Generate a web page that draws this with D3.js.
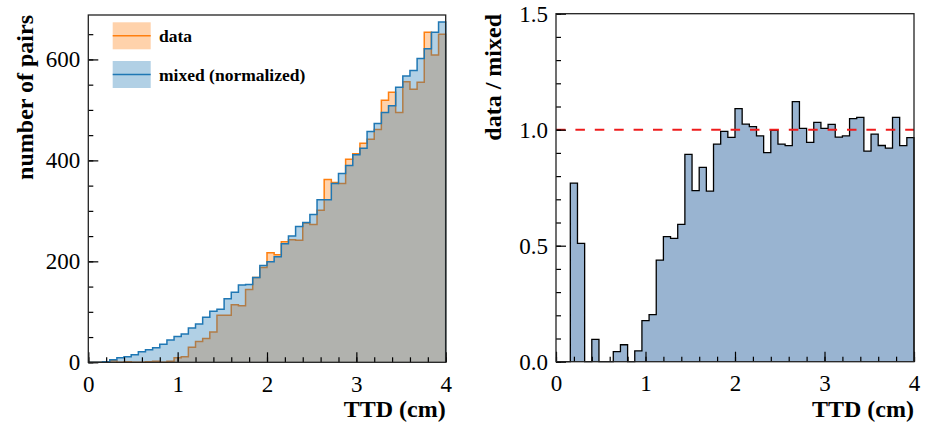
<!DOCTYPE html>
<html>
<head>
<meta charset="utf-8">
<script src="https://cdn.jsdelivr.net/npm/d3@7"></script>
<style>
  body { margin: 0; background: #fff; }
  svg { display: block; }
  text { font-family: "Liberation Serif", "Times New Roman", serif; fill: #000; }
</style>
</head>
<body>
<div id="chart"></div>
<script>
// 50 bins of 0.08 cm between 0 and 4 cm
const binEdges = d3.range(51).map(i => +(i * 0.08).toFixed(2));

const dataCounts = [
  0, 0, 1, 3, 0, 1, 0, 0, 1, 2,
  0, 2, 9, 11, 30, 41, 47, 60, 93, 93,
  114, 112, 144, 168, 188, 217, 213, 239, 243, 242,
  276, 273, 301, 362, 356, 354, 402, 413, 434, 442,
  461, 519, 535, 495, 556, 541, 555, 654, 609, 650
];

const mixedCounts = [
  0, 0, 1.3, 5, 9, 11, 15, 21, 25, 29,
  36, 44, 51, 56, 68, 76, 89, 101, 105, 126,
  139, 153, 154, 168, 192, 199, 209, 235, 250, 269,
  277, 293, 322, 322, 354, 374, 390, 411, 424, 457,
  473, 495, 508, 545, 567, 578, 602, 621, 654, 674
];

const ratioValues = [
  0, 0, 0.77, 0.51, 0, 0.096, 0, 0, 0.043, 0.073,
  0, 0.047, 0.177, 0.203, 0.438, 0.539, 0.532, 0.592, 0.894, 0.737,
  0.838, 0.735, 0.938, 0.993, 0.967, 1.091, 1.024, 1.013, 0.973, 0.901,
  0.997, 0.938, 0.931, 1.121, 1.006, 0.945, 1.032, 1.006, 1.023, 0.968,
  0.973, 1.048, 1.053, 0.908, 0.981, 0.932, 0.921, 1.053, 0.931, 0.966
];

const xTicks = [0, 1, 2, 3, 4];
const xMinorTicks = d3.range(0, 4.001, 0.2);
const countTicks = [0, 200, 400, 600];
const countMinorTicks = d3.range(0, 688, 50);
const ratioTicks = [0, 0.5, 1.0, 1.5];
const ratioMinorTicks = d3.range(0, 1.501, 0.1);
const legendItems = [
  { label: "data", color: "#ff7f0e" },
  { label: "mixed (normalized)", color: "#1f77b4" }
];

const width = 928, height = 425;

const svg = d3.select("#chart").append("svg")
  .attr("width", width)
  .attr("height", height);

// step helpers
function stepPoints(values) {
  const pts = values.map((v, i) => [binEdges[i], v]);
  pts.push([binEdges[binEdges.length - 1], values[values.length - 1]]);
  return pts;
}
function outlinePoints(values) {
  const pts = stepPoints(values);
  return [[binEdges[0], 0], ...pts, [binEdges[binEdges.length - 1], 0]];
}

function drawTicks(g, x, y, xMajor, xMinor, yMajor, yMinor, yFormat) {
  g.append("g")
    .attr("transform", `translate(0,${y.range()[0]})`)
    .call(d3.axisBottom(x).tickValues(xMinor).tickSize(-5).tickFormat(""))
    .call(a => a.select(".domain").remove());
  g.append("g")
    .attr("transform", `translate(0,${y.range()[0]})`)
    .call(d3.axisBottom(x).tickValues(xMajor).tickSize(-10).tickPadding(13).tickFormat(d3.format("d")))
    .call(a => a.select(".domain").remove())
    .call(a => a.selectAll("text").attr("font-size", 23).attr("font-family", "Liberation Serif"));
  g.append("g")
    .attr("transform", `translate(${x.range()[0]},0)`)
    .call(d3.axisLeft(y).tickValues(yMinor).tickSize(-5).tickFormat(""))
    .call(a => a.select(".domain").remove());
  g.append("g")
    .attr("transform", `translate(${x.range()[0]},0)`)
    .call(d3.axisLeft(y).tickValues(yMajor).tickSize(-10).tickPadding(8).tickFormat(yFormat))
    .call(a => a.select(".domain").remove())
    .call(a => a.selectAll("text").attr("font-size", 23).attr("font-family", "Liberation Serif"));
  g.selectAll(".tick line").attr("stroke", "#000").attr("stroke-width", 1.2);
}

// ---------- left panel ----------
const xL = d3.scaleLinear().domain([0, 4]).range([88.3, 445.7]);
const yL = d3.scaleLinear().domain([0, 688]).range([362.3, 15]);
const left = svg.append("g");

const areaL = d3.area().curve(d3.curveStepAfter)
  .x(d => xL(d[0])).y0(yL(0)).y1(d => yL(d[1]));
const lineL = d3.line().curve(d3.curveStepAfter)
  .x(d => xL(d[0])).y(d => yL(d[1]));

[dataCounts, mixedCounts].forEach((vals, k) => {
  const c = legendItems[k].color;
  left.append("path").attr("d", areaL(stepPoints(vals)))
    .attr("fill", c).attr("fill-opacity", 0.35);
  left.append("path").attr("d", lineL(outlinePoints(vals)))
    .attr("fill", "none").attr("stroke", c).attr("stroke-width", 1.5);
});

drawTicks(left, xL, yL, xTicks, xMinorTicks, countTicks, countMinorTicks, d3.format("d"));

left.append("rect")
  .attr("x", xL(0)).attr("y", yL.range()[1])
  .attr("width", xL(4) - xL(0)).attr("height", yL.range()[0] - yL.range()[1])
  .attr("fill", "none").attr("stroke", "#222").attr("stroke-width", 1.3);

// legend
const legend = left.append("g");
legendItems.forEach((d, i) => {
  const top = 22.3 + i * 38.7;
  legend.append("rect")
    .attr("x", 112.7).attr("y", top).attr("width", 38).attr("height", 27)
    .attr("fill", d.color).attr("fill-opacity", 0.35);
  legend.append("line")
    .attr("x1", 112.7).attr("x2", 150.7)
    .attr("y1", top + 13.5).attr("y2", top + 13.5)
    .attr("stroke", d.color).attr("stroke-width", 1.5);
  legend.append("text")
    .attr("x", 159).attr("y", top + 19.5)
    .attr("font-size", 17.5).attr("font-weight", "bold")
    .text(d.label);
});

left.append("text")
  .attr("x", xL(4)).attr("y", 417)
  .attr("text-anchor", "end").attr("font-size", 24).attr("font-weight", "bold")
  .text("TTD (cm)");
left.append("text")
  .attr("transform", "translate(33,15) rotate(-90)")
  .attr("text-anchor", "end").attr("font-size", 24).attr("font-weight", "bold")
  .text("number of pairs");

// ---------- right panel ----------
const xR = d3.scaleLinear().domain([0, 4]).range([556, 914]);
const yR = d3.scaleLinear().domain([0, 1.5]).range([361.7, 13.7]);
const right = svg.append("g");

right.append("path")
  .attr("d", d3.area().curve(d3.curveStepAfter)
    .x(d => xR(d[0])).y0(yR(0)).y1(d => yR(d[1]))(stepPoints(ratioValues)))
  .attr("fill", "#99b4d1");
right.append("path")
  .attr("d", d3.line().curve(d3.curveStepAfter)
    .x(d => xR(d[0])).y(d => yR(d[1]))(outlinePoints(ratioValues)))
  .attr("fill", "none").attr("stroke", "#000").attr("stroke-width", 1.3);

right.append("line")
  .attr("x1", xR(0)).attr("x2", xR(4))
  .attr("y1", yR(1)).attr("y2", yR(1))
  .attr("stroke", "#ee1c1c").attr("stroke-width", 2)
  .attr("stroke-dasharray", "9.5,9.9");

drawTicks(right, xR, yR, xTicks, xMinorTicks, ratioTicks, ratioMinorTicks, d3.format(".1f"));

right.append("rect")
  .attr("x", xR(0)).attr("y", yR.range()[1])
  .attr("width", xR(4) - xR(0)).attr("height", yR.range()[0] - yR.range()[1])
  .attr("fill", "none").attr("stroke", "#222").attr("stroke-width", 1.3);

right.append("text")
  .attr("x", xR(4)).attr("y", 417)
  .attr("text-anchor", "end").attr("font-size", 24).attr("font-weight", "bold")
  .text("TTD (cm)");
right.append("text")
  .attr("transform", "translate(501,14) rotate(-90)")
  .attr("text-anchor", "end").attr("font-size", 24).attr("font-weight", "bold")
  .text("data / mixed");
</script>
</body>
</html>
